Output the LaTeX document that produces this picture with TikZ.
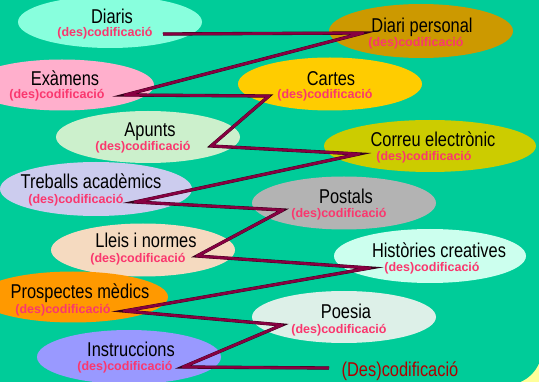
\documentclass[tikz,border=0pt]{standalone}
\usepackage{fontspec}
\setmainfont{Liberation Sans}
\newfontfamily\narrowfont[FakeStretch=0.82]{Liberation Sans}
\usetikzlibrary{shapes.geometric}
\definecolor{fons}{RGB}{0,204,153}
\definecolor{groc}{RGB}{255,255,153}
\definecolor{rosa}{RGB}{250,55,110}
\definecolor{granat}{RGB}{135,0,65}
\definecolor{vermell}{RGB}{175,0,0}

\begin{document}
\begin{tikzpicture}[x=1pt,y=-1pt,
  bubble/.style={ellipse,inner sep=0pt,minimum width=184pt,minimum height=53pt},
  tit/.style={anchor=base,inner sep=0pt,font=\narrowfont\fontsize{20}{20}\selectfont},
  sub/.style={anchor=base,inner sep=0pt,text=rosa,font=\bfseries\fontsize{12.5}{12.5}\selectfont},
  link/.style={line width=2.6pt,draw=granat,line join=round,
    preaction={draw=black!60!granat,line width=3.3pt}}]
  \useasboundingbox (0,0) rectangle (539,382);
  \fill[groc] (0,0) rectangle (539,382);
  \fill[fons,rounded corners=36pt] (-50,-50) rectangle (542,385);

  \node[bubble,fill={rgb,255:red,136;green,255;blue,221},minimum height=52pt] (diaris) at (110,22) {};
  \node[bubble,fill={rgb,255:red,204;green,153;blue,0},minimum height=54pt] (dpers) at (421,31) {};
  \node[bubble,fill={rgb,255:red,255;green,175;blue,204},minimum height=51pt] (examens) at (62,85) {};
  \node[bubble,fill={rgb,255:red,255;green,204;blue,0}] (cartes) at (330,84) {};
  \node[bubble,fill={rgb,255:red,204;green,240;blue,204},minimum height=52pt] (apunts) at (148,137) {};
  \node[bubble,fill={rgb,255:red,204;green,204;blue,0},minimum width=212pt,minimum height=52pt] (correu) at (430,146) {};
  \node[bubble,fill={rgb,255:red,204;green,204;blue,238},minimum width=192pt,minimum height=54pt] (treballs) at (96,189) {};
  \node[bubble,fill={rgb,255:red,179;green,179;blue,179}] (postals) at (344,203) {};
  \node[bubble,fill={rgb,255:red,245;green,218;blue,192}] (lleis) at (143,250) {};
  \node[bubble,fill={rgb,255:red,204;green,255;blue,238},minimum width=192pt,minimum height=54pt] (histories) at (430,256) {};
  \node[bubble,fill={rgb,255:red,255;green,153;blue,0},minimum width=190pt,minimum height=51pt] (prospectes) at (73,297) {};
  \node[bubble,fill={rgb,255:red,221;green,240;blue,232},minimum height=52pt] (poesia) at (344,317) {};
  \node[bubble,fill={rgb,255:red,153;green,153;blue,255},minimum height=54pt] (instruccions) at (129,357) {};

  \coordinate (diaris-a) at (163,34);
  \coordinate (dpers-a) at (363,33);
  \coordinate (examens-a) at (125,95);
  \coordinate (cartes-a) at (269,96);
  \coordinate (apunts-a) at (211,146);
  \coordinate (correu-a) at (359,154);
  \coordinate (treballs-a) at (135,202);
  \coordinate (postals-a) at (283,210);
  \coordinate (lleis-a) at (197,256);
  \coordinate (histories-a) at (370,268);
  \coordinate (prospectes-a) at (124,311);
  \coordinate (poesia-a) at (282,325);
  \coordinate (instruccions-a) at (183,367);
  \coordinate (fi) at (329,368);
  \draw[link] (diaris-a) -- (dpers-a) -- (examens-a) -- (cartes-a) -- (apunts-a)
    -- (correu-a) -- (treballs-a) -- (postals-a) -- (lleis-a) -- (histories-a)
    -- (prospectes-a) -- (poesia-a) -- (instruccions-a) -- (fi);

  \node[tit] (diaris-t) at (112,24) {Diaris};
  \node[sub] (diaris-s) at (105,37) {(des)codificació};
  \node[tit] (dpers-t) at (422,33) {Diari personal};
  \node[sub] (dpers-s) at (416,47) {(des)codificació};
  \node[tit] (examens-t) at (65,86) {Exàmens};
  \node[sub] (examens-s) at (57,99) {(des)codificació};
  \node[tit] (cartes-t) at (331,86) {Cartes};
  \node[sub] (cartes-s) at (325,99) {(des)codificació};
  \node[tit] (apunts-t) at (150,137) {Apunts};
  \node[sub] (apunts-s) at (143,151) {(des)codificació};
  \node[tit] (correu-t) at (433,147) {Correu electrònic};
  \node[sub] (correu-s) at (424,161) {(des)codificació};
  \node[tit] (treballs-t) at (91,189) {Treballs acadèmics};
  \node[sub] (treballs-s) at (76,204) {(des)codificació};
  \node[tit] (postals-t) at (346,204) {Postals};
  \node[sub] (postals-s) at (339,218) {(des)codificació};
  \node[tit] (lleis-t) at (146,248) {Lleis i normes};
  \node[sub] (lleis-s) at (138,263) {(des)codificació};
  \node[tit] (histories-t) at (439,258) {Històries creatives};
  \node[sub] (histories-s) at (432,272) {(des)codificació};
  \node[tit] (prospectes-t) at (80,299) {Prospectes mèdics};
  \node[sub] (prospectes-s) at (63,314) {(des)codificació};
  \node[tit] (poesia-t) at (346,319) {Poesia};
  \node[sub] (poesia-s) at (339,334) {(des)codificació};
  \node[tit] (instruccions-t) at (131,357) {Instruccions};
  \node[sub] (instruccions-s) at (125,371) {(des)codificació};
  \node[tit,text=vermell] (final) at (400,377) {(Des)codificació};
\end{tikzpicture}
\end{document}
